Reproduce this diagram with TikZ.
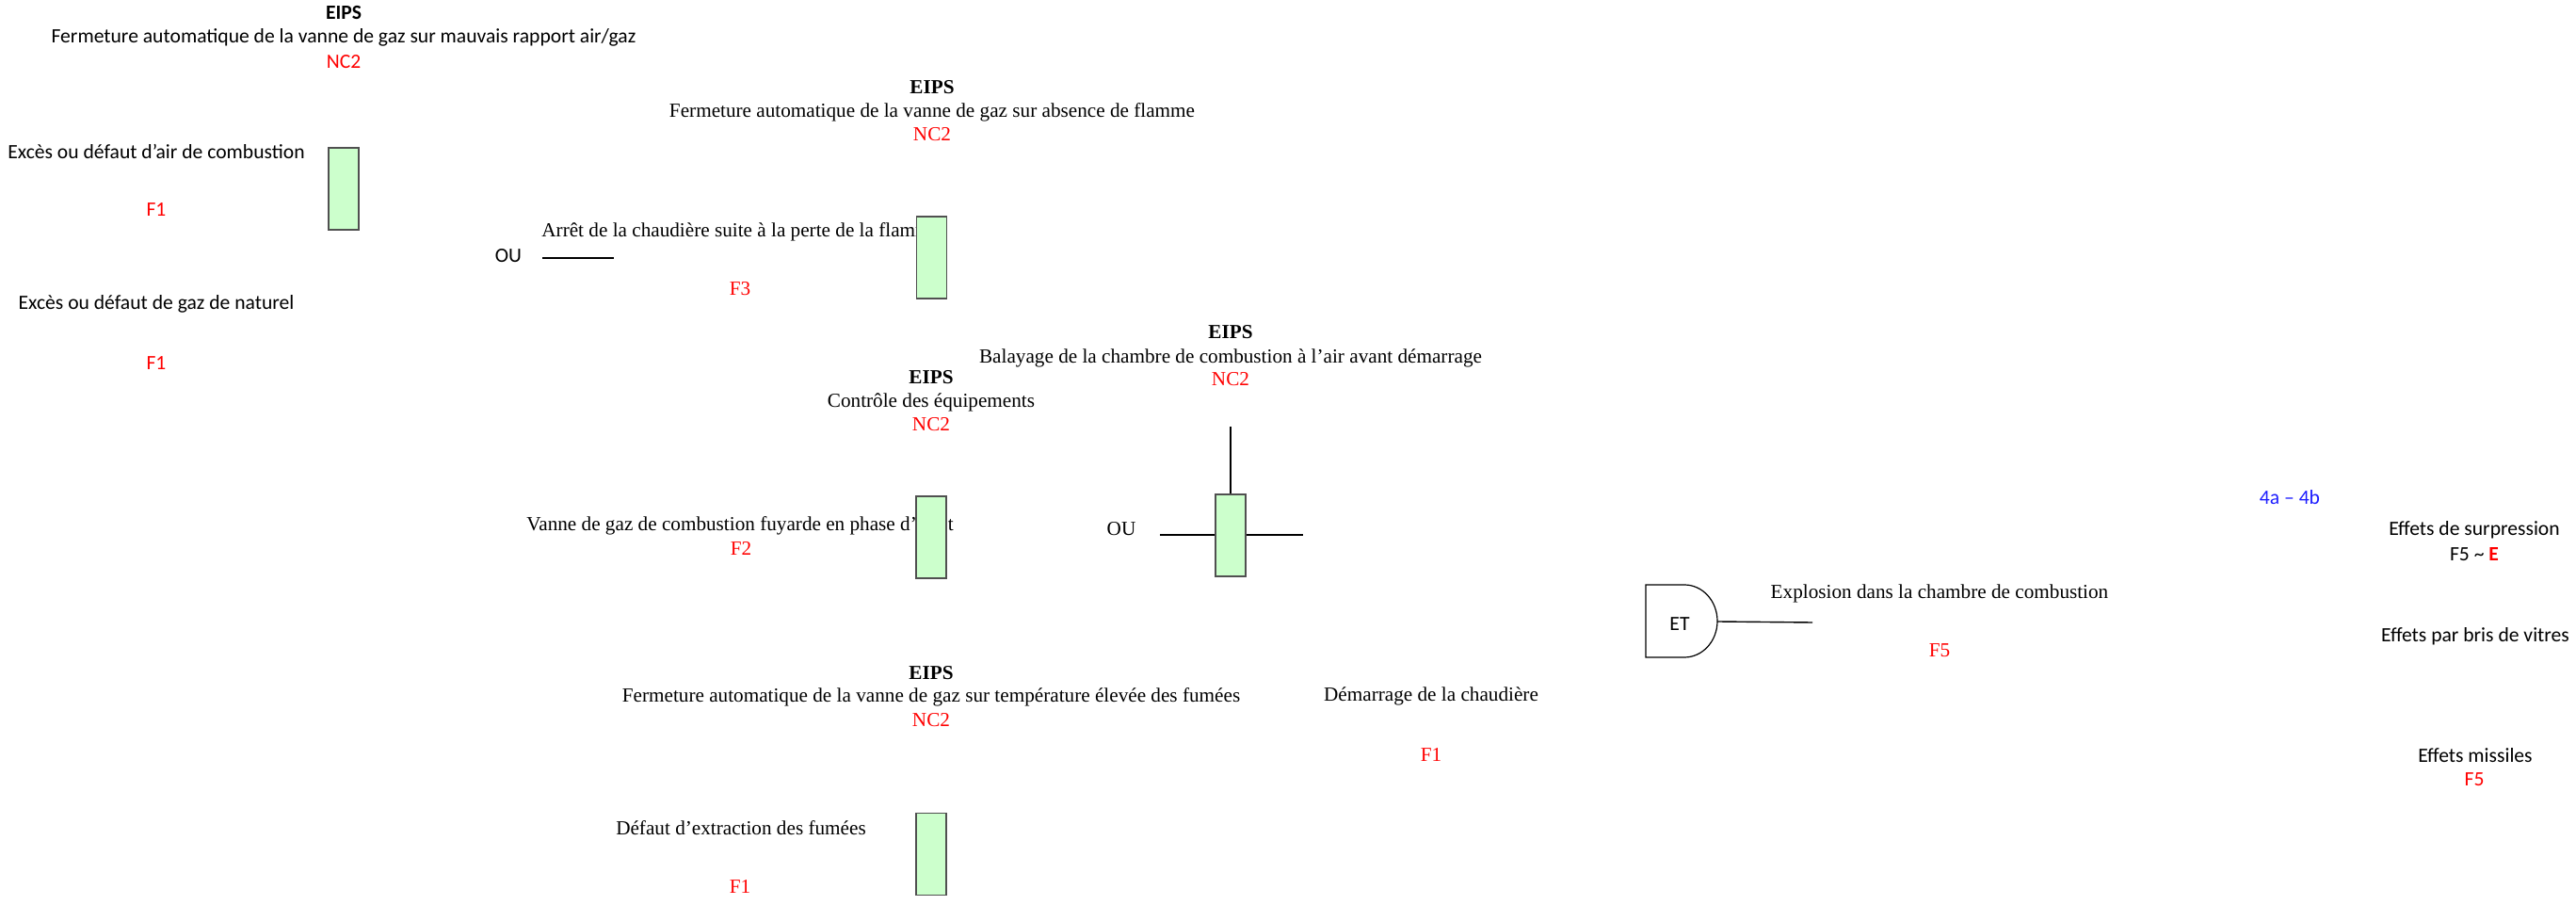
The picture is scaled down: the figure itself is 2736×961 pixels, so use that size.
\documentclass[tikz,border=0pt]{standalone}
\usepackage{fontspec}
\setmainfont{Liberation Serif}
\newfontfamily\calf{Carlito}
\definecolor{barfill}{RGB}{204,255,204}
\definecolor{barline}{RGB}{80,80,80}
\definecolor{codered}{RGB}{255,0,0}
\definecolor{refblue}{RGB}{30,30,255}
\begin{document}
\begin{tikzpicture}[x=0.5pt,y=-0.5pt,
  cal/.style={font=\calf\fontsize{10.8}{13}\selectfont,inner sep=0pt},
  tim/.style={font=\fontsize{10.6}{12.5}\selectfont,inner sep=0pt},
  calb/.style={cal,font=\calf\fontsize{10.8}{13}\selectfont\bfseries},
  timb/.style={tim,font=\fontsize{10.6}{12.5}\selectfont\bfseries},
  code/.style={text=codered},
  barrier/.style={draw=barline,fill=barfill,line width=0.8pt,inner sep=0pt,minimum width=16pt,minimum height=43.5pt},
  wire/.style={draw=black,line width=0.7pt}
]
\useasboundingbox (0,0) rectangle (2736,961);

% ---------- upper left (Calibri) ----------
\node[calb] (e1) at (365,14) {EIPS};
\node[cal] (e1t) at (365,40) {Fermeture automatique de la vanne de gaz sur mauvais rapport air/gaz};
\node[cal,code] (e1c) at (365,66) {NC2};
\node[cal] (a1) at (166,161) {Excès ou défaut d’air de combustion};
\node[cal,code] (a1c) at (166,223) {F1};
\node[cal] (a2) at (166,323) {Excès ou défaut de gaz de naturel};
\node[cal,code] (a2c) at (166,386) {F1};
\node[cal] (ou1) at (540,272) {OU};
\coordinate (ou1a) at (576,274);
\coordinate (ou1b) at (652,274);

% ---------- Times block ----------
\node[timb] (e2) at (990,93) {EIPS};
\node[tim] (e2t) at (990,119) {Fermeture automatique de la vanne de gaz sur absence de flamme};
\node[tim,code] (e2c) at (990,143) {NC2};
\node[tim,anchor=west] (b1) at (575,246) {Arrêt de la chaudière suite à la perte de la flamme};
\node[tim,code] (b1c) at (786,307) {F3};

\node[timb] (e3) at (1307,353) {EIPS};
\node[tim] (e3t) at (1307,380) {Balayage de la chambre de combustion à l’air avant démarrage};
\node[tim,code] (e3c) at (1307,403) {NC2};

\node[timb] (e4) at (989,401) {EIPS};
\node[tim] (e4t) at (989,427) {Contrôle des équipements};
\node[tim,code] (e4c) at (989,451) {NC2};

\node[tim] (ou2) at (1191,562) {OU};
\node[tim,anchor=west] (b2) at (559,558) {Vanne de gaz de combustion fuyarde en phase d’arrêt};
\node[tim,code] (b2c) at (787,582) {F2};

\node[timb] (e5) at (989,715) {EIPS};
\node[tim] (e5t) at (989,740) {Fermeture automatique de la vanne de gaz sur température élevée des fumées};
\node[tim,code] (e5c) at (989,765) {NC2};

\node[tim] (d1) at (1520,739) {Démarrage de la chaudière};
\node[tim,code] (d1c) at (1520,802) {F1};

\node[tim] (b3) at (787,879) {Défaut d’extraction des fumées};
\node[tim,code] (b3c) at (786,942) {F1};

% ---------- right side ----------
\node[tim] (x1) at (2060,630) {Explosion dans la chambre de combustion};
\node[tim,code] (x1c) at (2060,691) {F5};
\node[cal,text=refblue] (ref) at (2432,528) {4a – 4b};
\node[cal] (s1) at (2628,563) {Effets de surpression};
\node[cal] (s1c) at (2628,589) {F5 \textasciitilde\ \textcolor{codered}{\bfseries E}};
\node[cal] (s2) at (2629,676) {Effets par bris de vitres};
\node[cal] (s3) at (2629,802) {Effets missiles};
\node[cal,code] (s3c) at (2628,828) {F5};

% ---------- connectors ----------
\draw[wire] (ou1a) -- (ou1b);
\coordinate (top3) at (1307,453);
\coordinate (l3) at (1232,568);
\coordinate (r3) at (1384,568);
\draw[wire] (l3) -- (r3);

% ---------- barriers ----------
\node[barrier] (r1) at (365,200.5) {};
\node[barrier] (r2) at (989.5,273.5) {};
\node[barrier] (r3b) at (1307,568.5) {};
\node[barrier] (r4) at (989,570.5) {};
\node[barrier] (r5) at (989,907) {};
\draw[wire] (top3) -- (r3b.north);

% ---------- AND gate ----------
\draw[line width=0.6pt] (1748,621) -- (1789,621) arc[start angle=-90,end angle=90,x radius=35,y radius=38.5] -- (1748,698) -- cycle;
\node[cal] (et) at (1784,663) {ET};
\coordinate (gout) at (1824,660);
\coordinate (gend) at (1925,661);
\draw[wire] (gout) -- (gend);
\end{tikzpicture}
\end{document}
